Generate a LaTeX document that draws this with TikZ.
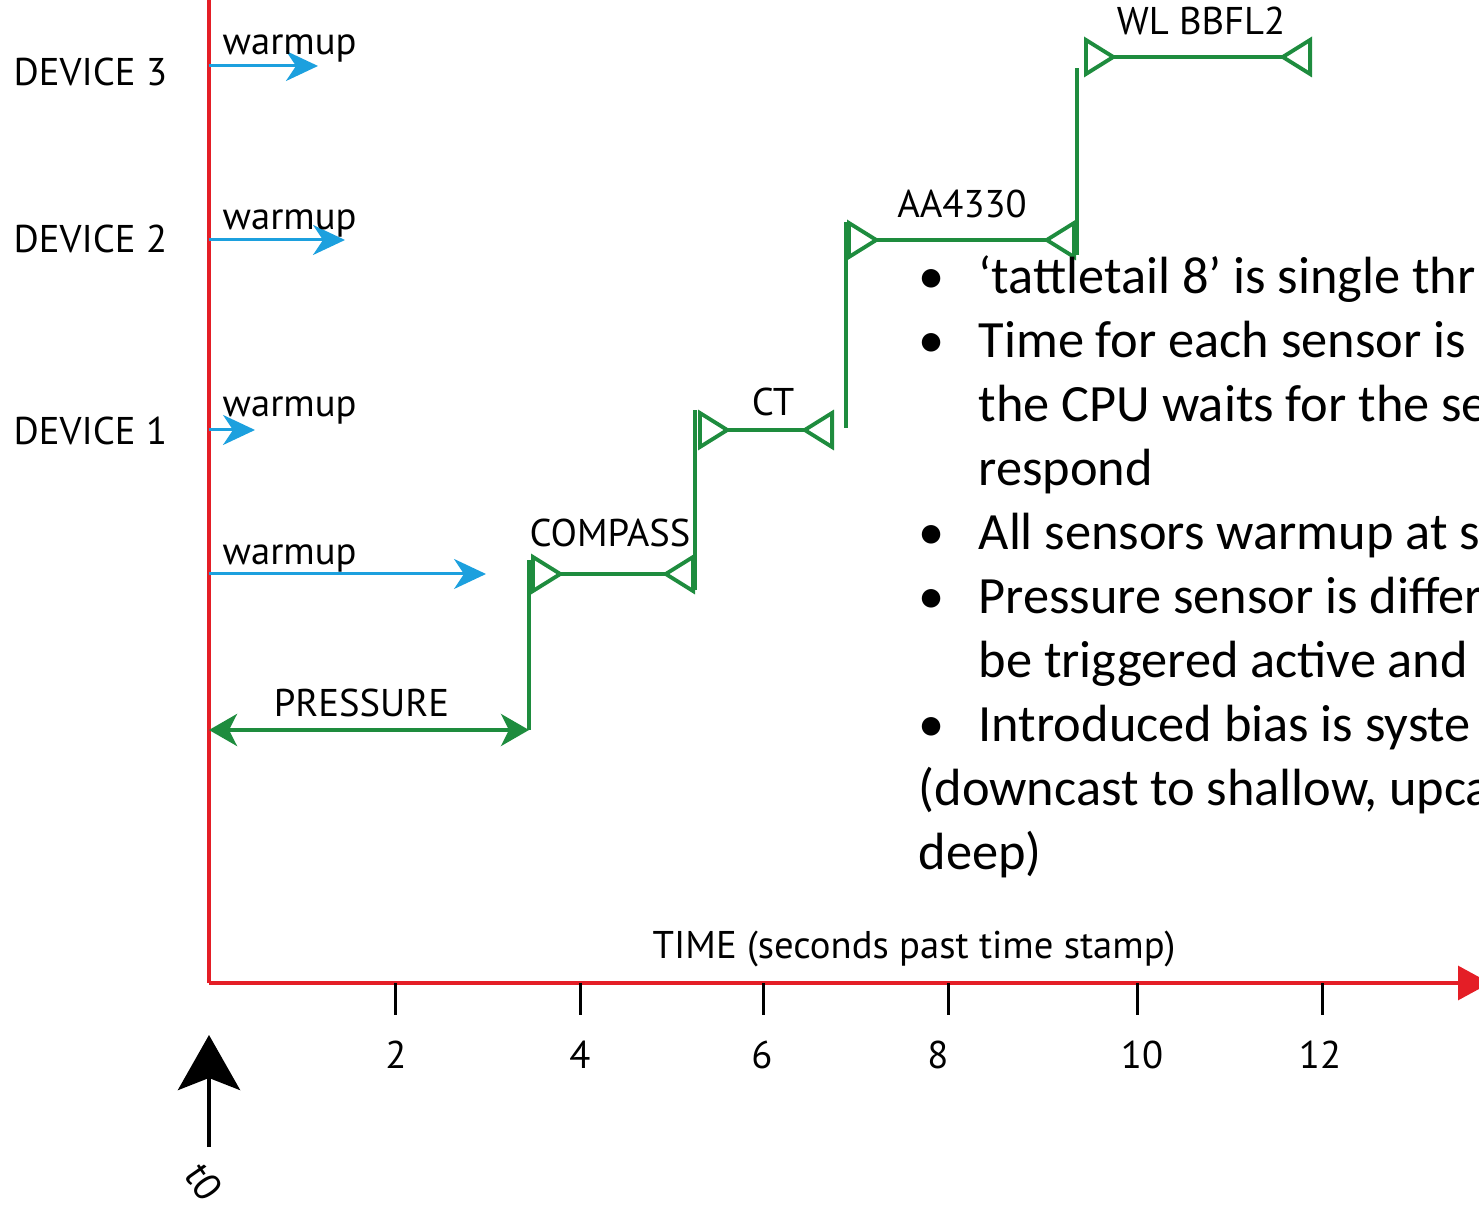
\documentclass[tikz,border=0pt]{standalone}
\usepackage{fontspec}
\setmainfont{PT Sans}
\newfontfamily\notefont{Carlito}
\usetikzlibrary{arrows.meta}
\definecolor{axisred}{RGB}{228,30,38}
\definecolor{warmblue}{RGB}{28,160,222}
\definecolor{sensgreen}{RGB}{30,140,62}

\begin{document}
\begin{tikzpicture}[
  lbl/.style={font=\fontsize{11}{13}\selectfont, inner sep=0pt},
  notes/.style={font=\notefont\fontsize{14.9}{18.2}\selectfont, align=left, inner sep=0pt},
  warm/.style={warmblue, line width=0.85pt, -{Stealth[length=0.32cm,width=0.3cm,inset=0.1cm]}},
  sens/.style={sensgreen, line width=1.1pt, {Triangle[open,reversed,length=0.33cm,width=0.4cm]}-{Triangle[open,reversed,length=0.33cm,width=0.4cm]}},
  riser/.style={sensgreen, line width=1.1pt},
  tickmark/.style={line width=0.85pt}]
\useasboundingbox (0,0) rectangle (14.79,12.04);
\clip (0,0) rectangle (14.79,12.04);

% axes
\coordinate (origin) at (2.09,2.21);
\coordinate (ytop) at (2.09,12.2);
\coordinate (xend) at (14.90,2.21);
\draw [axisred, line width=0.9pt] (origin)--(ytop);
\draw [axisred, line width=0.9pt, -{Triangle[length=0.32cm,width=0.34cm]}] (origin)--(xend);
\node[lbl, anchor=base] (timelbl) at (9.14,2.46) {TIME (seconds past time stamp)};

\foreach \x/\lx/\t in {3.95/3.96/2, 5.80/5.80/4, 7.63/7.62/6, 9.48/9.38/8, 11.37/11.42/10, 13.22/13.20/12} {
  \coordinate (ta\t) at (\x,2.21);
  \coordinate (tb\t) at (\x,1.89);
  \draw [tickmark] (ta\t)--(tb\t);
  \node[lbl, anchor=base] (tl\t) at (\lx,1.36) {\t};
}

% t0 marker
\coordinate (t0base) at (2.09,0.57);
\coordinate (t0tip) at (2.09,1.69);
\draw [line width=1.4pt, -{Stealth[length=0.55cm,width=0.62cm,inset=0.12cm]}] (t0base)--(t0tip);
\node[lbl, rotate=-55] (t0) at (2.04,0.22) {t0};

% devices
\node[lbl, anchor=base west] (dev3) at (0.13,11.18) {DEVICE 3};
\node[lbl, anchor=base west] (dev2) at (0.13,9.51) {DEVICE 2};
\node[lbl, anchor=base west] (dev1) at (0.13,7.59) {DEVICE 1};

% warmup
\foreach \n/\y/\e/\ly in {3/11.38/3.18/11.49, 2/9.64/3.45/9.74, 1/7.74/2.55/7.87, 0/6.30/4.86/6.39} {
  \coordinate (ws\n) at (2.09,\y);
  \coordinate (we\n) at (\e,\y);
  \draw [warm] (ws\n)--(we\n);
  \node[lbl, anchor=base west] (wl\n) at (2.22,\ly) {warmup};
}

% sensors
\coordinate (p0) at (2.09,4.74);
\coordinate (p1) at (5.29,4.74);
\draw [sensgreen, line width=1.1pt, {Stealth[length=0.28cm,width=0.32cm,inset=0.08cm]}-{Stealth[length=0.28cm,width=0.32cm,inset=0.08cm]}] (p0)--(p1);
\node[lbl, anchor=base] (pres) at (3.615,4.87) {PRESSURE};

\coordinate (r1) at (5.29,6.44);
\draw [riser] (p1)--(r1);
\coordinate (c0) at (5.31,6.30);
\coordinate (c1) at (6.95,6.30);
\draw [sens] (c0)--(c1);
\node[lbl, anchor=base] (comp) at (6.10,6.57) {COMPASS};

\coordinate (r2a) at (6.95,6.14);
\coordinate (r2b) at (6.95,7.94);
\draw [riser] (r2a)--(r2b);
\coordinate (ct0) at (6.98,7.74);
\coordinate (ct1) at (8.34,7.74);
\draw [sens] (ct0)--(ct1);
\node[lbl, anchor=base] (ctl) at (7.73,7.88) {CT};

\coordinate (r3a) at (8.46,7.76);
\coordinate (r3b) at (8.46,9.82);
\draw [riser] (r3a)--(r3b);
\coordinate (aa0) at (8.47,9.64);
\coordinate (aa1) at (10.76,9.64);
\draw [sens] (aa0)--(aa1);
\node[lbl, anchor=base] (aal) at (9.62,9.86) {AA4330};

\coordinate (r4a) at (10.77,9.49);
\coordinate (r4b) at (10.77,11.36);
\draw [riser] (r4a)--(r4b);
\coordinate (wl0) at (10.84,11.47);
\coordinate (wl1) at (13.12,11.47);
\draw [sens] (wl0)--(wl1);
\node[lbl, anchor=base] (wll) at (12.01,11.69) {WL BBFL2};

% notes
\node[notes, anchor=north west] (notes) at (9.18,9.49) {%
\makebox[0.6cm][l]{•}‘tattletail 8’ is single thr\\
\makebox[0.6cm][l]{•}Time for each sensor is\\
\hspace*{0.6cm}the CPU waits for the se\\
\hspace*{0.6cm}respond\\
\makebox[0.6cm][l]{•}All sensors warmup at s\\
\makebox[0.6cm][l]{•}Pressure sensor is differ\\
\hspace*{0.6cm}be triggered active and\\
\makebox[0.6cm][l]{•}Introduced bias is syste\\
(downcast to shallow, upca\\
deep)};
\end{tikzpicture}
\end{document}
